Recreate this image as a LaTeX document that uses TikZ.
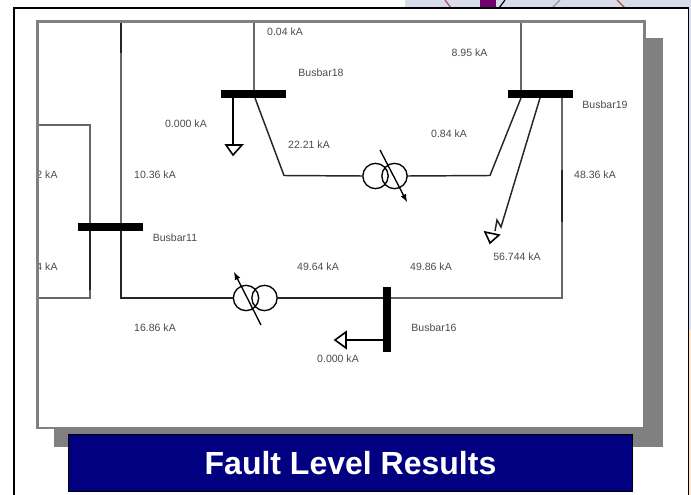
\documentclass[tikz,border=0pt]{standalone}
\usepackage{fontspec}
\setmainfont{Liberation Sans}
\usetikzlibrary{arrows}
\definecolor{titleblue}{HTML}{000080}
\definecolor{shadowgray}{HTML}{808080}
\definecolor{stripblue}{HTML}{D8DCEA}
\tikzset{
	bar/.style={fill=black,inner sep=0pt,minimum width=48.75pt,minimum height=6pt},
	wire/.style={line width=1.1pt,black!85},
	feed/.style={line width=0.9pt,black!60},
	lab/.style={inner sep=0pt,text=black!70,font=\fontsize{7.9}{9}\selectfont},
	coil/.style={circle,draw=black,line width=1pt,inner sep=0pt,minimum size=19pt}
}

\begin{document}
\begin{tikzpicture}[x=0.75pt,y=-0.75pt]
			\useasboundingbox (0,0) rectangle (691,495);
			% photo behind the slide
			\fill[stripblue] (405,0) rectangle (691,8);
			\fill[stripblue] (688,8) rectangle (691,495);
			\fill[white!80!orange] (688,330) rectangle (691,495);
			\fill[violet!90!black] (480,0) rectangle (496,8);
			\draw[red!50!black!70,line width=0.9pt] (445,0) -- (451,8);
			\draw[red!50!black!70,line width=0.9pt] (617,0) -- (625,8);
			\draw[black!40,line width=0.9pt] (560,0) -- (552,8);
			\draw[black,line width=0.9pt] (505,0) -- (499,8);
			\draw[black,line width=1.1pt,fill=white] (14,8) rectangle (688.5,500);
			% panel and shadow
			\fill[shadowgray] (54,38) rectangle (663,447);
			\fill[white] (37.5,21.5) rectangle (644,428);
			% busbars
			\node[bar]  at (253.5,94)  (b18) {};
			\node[bar]  at (540.5,94)  (b19) {};
			\node[bar]  at (110,227)   (b11) {};
			\node[bar,minimum width=6pt,minimum height=48.75pt]  at (387,319)  (b16) {};
			% transformers
			\node[coil]  at (375.5,176)  (t1a) {};
			\node[coil]  at (394.5,176)  (t1b) {};
			\node[coil]  at (246,298)    (t2a) {};
			\node[coil]  at (264.5,298)  (t2b) {};
			\coordinate (s1) at (380,150);
			\coordinate (e1) at (407,202);
			\coordinate (s2) at (261,325);
			\coordinate (e2) at (234,272);
			\draw[black,line width=1pt,-latex] (s1) -- (e1);
			\draw[black,line width=1pt,-latex] (s2) -- (e2);
			% corners and free ends
			\coordinate (top18) at (254,22);
			\coordinate (top19) at (521,22);
			\coordinate (top11) at (121,22);
			\coordinate (mid11) at (121,53);
			\coordinate (o18)   at (255,98);
			\coordinate (k18)   at (284,175.5);
			\coordinate (k19)   at (490,175.5);
			\coordinate (o19)   at (521,98);
			\coordinate (o19b)  at (540,98);
			\coordinate (k16)   at (562,298);
			\coordinate (m1)    at (562,170);
			\coordinate (m2)    at (562,222);
			\coordinate (k11)   at (121,298);
			\coordinate (c1)    at (90,125);
			\coordinate (c2)    at (90,298);
			\coordinate (c3)    at (90,290);
			\coordinate (l1)    at (38,125);
			\coordinate (l2)    at (38,298);
			\draw[feed] (top18) -- (top18 |- b18.north);
			\draw[feed] (top19) -- (top19 |- b19.north);
			\draw[feed] (top11) -- (top11 |- b11.north);
			\draw[wire] (top11) -- (mid11);
			\draw[wire] (o18) -- (k18) -- (t1a.west);
			\draw[wire] (t1b.east) -- (k19) -- (o19);
			\draw[feed] (b19.south -| k16) -- (k16) -- (k16 -| b16.east);
			\draw[wire,line width=1.3pt] (m1) -- (m2);
			\draw[wire] (t2b.east) -- (t2b.east -| b16.west);
			\draw[wire] (t2a.west) -- (k11) -- (k11 |- b11.south);
			\draw[feed] (c1 |- b11.north) -- (c1) -- (l1);
			\draw[wire] (c1 |- b11.south) -- (c3);
			\draw[feed] (c3) -- (c2) -- (l2);
			% loads
			\coordinate (g18) at (233,145);
			\coordinate (p18) at (233,155);
			\coordinate (g16) at (346,340);
			\coordinate (p16) at (335,340);
			\coordinate (g19) at (501,227);
			\draw[black,line width=0.8pt] (b18.south -| g18) -- (g18);
			\draw[black,line width=1.2pt] (226,145) -- (242,145) -- (p18) -- cycle;
			\draw[black,line width=0.8pt] (b16.west |- g16) -- (g16);
			\draw[black,line width=1.2pt] (346,332) -- (346,348) -- (p16) -- cycle;
			\draw[wire] (o19b) -- (g19) -- (497,220) -- (495,231);
			\draw[black,line width=1.2pt] (485,232) -- (499,235) -- (490,243) -- cycle;
			% labels
			\node[lab]  at (285,32)   (a1)  {0.04 kA};
			\node[lab]  at (321,73)   (a2)  {Busbar18};
			\node[lab]  at (469.5,53) (a3)  {8.95 kA};
			\node[lab]  at (605,105)  (a4)  {Busbar19};
			\node[lab]  at (186,124)  (a5)  {0.000 kA};
			\node[lab]  at (309,145)  (a6)  {22.21 kA};
			\node[lab]  at (449,134)  (a7)  {0.84 kA};
			\node[lab]  at (47,175)   (a8)  {2 kA};
			\node[lab]  at (155,175)  (a9)  {10.36 kA};
			\node[lab]  at (595,175)  (a10) {48.36 kA};
			\node[lab]  at (175,238)  (a11) {Busbar11};
			\node[lab]  at (47,267)   (a12) {4 kA};
			\node[lab]  at (318,267)  (a13) {49.64 kA};
			\node[lab]  at (431,267)  (a14) {49.86 kA};
			\node[lab]  at (517,257)  (a15) {56.744 kA};
			\node[lab]  at (155,328)  (a16) {16.86 kA};
			\node[lab]  at (434,328)  (a17) {Busbar16};
			\node[lab]  at (338,359)  (a18) {0.000 kA};
			% panel edge and title
			\draw[black!50,line width=1.9pt] (37.5,21.5) rectangle (644.5,428);
			\node[draw=black,line width=1.1pt,fill=titleblue,text=white,inner sep=0pt,
				minimum width=423pt,minimum height=42.5pt,
				font=\fontsize{24}{28}\bfseries\selectfont]  at (350.5,463)  (title)  {Fault Level Results};
		\end{tikzpicture}
\end{document}
